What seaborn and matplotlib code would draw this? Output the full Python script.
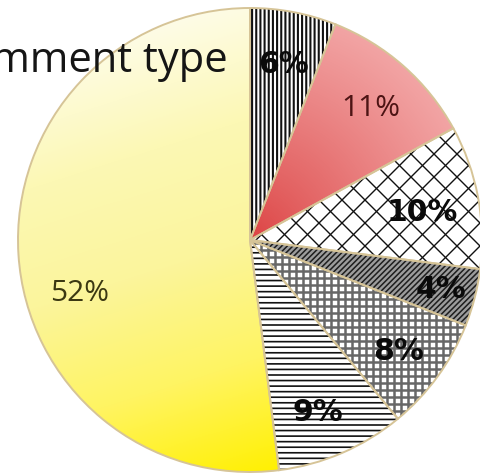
import numpy as np
import matplotlib
matplotlib.use("Agg")
import matplotlib.pyplot as plt
from matplotlib.patches import Wedge
from matplotlib.collections import LineCollection
import seaborn as sns

sns.set_theme(style="white")
plt.rcParams["font.family"] = ["Open Sans", "DejaVu Sans"]

# Share of comments per type (percent), clockwise from 12 o'clock
shares = [6, 11, 10, 4, 8, 9, 52]
title = "Comment type"

# ---- layout / styling -------------------------------------------------
W, H, DPI = 480, 476, 100
CX, CY, R = 250, 240, 232          # pie centre and radius in pixels

# how each slice is filled
fills = ["hatch", "radial", "cross", "hatch", "grid", "hatch", "linear"]
hatches = ["||||", None, None, "//////", None, "---", None]
hatch_colors = ["#111111", None, None, "#1e1e1e", None, "#111111", None]
hatch_widths = [1.5, None, None, 1.1, None, 1.2, None]
face_colors = ["white", None, "white", "#9c9c9c", "white", "white", None]

# label placement: radius factor and clockwise nudge (degrees)
label_radius = [0.77, 0.77, 0.75, 0.85, 0.80, 0.80, 0.77]
label_nudge = [0.0, 1.3, 1.8, 0.0, 1.0, 2.0, -13.7]
label_bold = [True, False, True, True, True, True, False]
label_colors = ["#0a0a0a", "#4d1414", "#0a0a0a", "#0a0a0a", "#0a0a0a", "#0a0a0a", "#3b3812"]

fig = plt.figure(figsize=(W / DPI, H / DPI), dpi=DPI, facecolor="white")
ax = fig.add_axes([0, 0, 1, 1])

wedges, _ = ax.pie(
    shares, startangle=90, counterclock=False, radius=1,
    colors=["none"] * len(shares),
    wedgeprops=dict(edgecolor="#d6c497", linewidth=1.4, zorder=3),
)

yellow_cmap = sns.blend_palette(["#fefce6", "#fcf8b4", "#fbf59c", "#fff462", "#fff000"], as_cmap=True)
red_cmap = sns.blend_palette(["#dc4040", "#e67070", "#f2a4a4"], as_cmap=True)

n = 500
gx = np.linspace(-1.05, 1.05, n)
GX, GY = np.meshgrid(gx, gx)


def gradient(wedge, values, cmap):
    im = ax.imshow(values, extent=(gx[0], gx[-1], gx[0], gx[-1]), origin="lower",
                   cmap=cmap, vmin=0, vmax=1, aspect="auto",
                   interpolation="bilinear", zorder=1)
    im.set_clip_path(wedge)


def clipped_lines(wedge, segs, color, lw):
    lc = LineCollection(segs, colors=color, linewidths=lw, zorder=2)
    ax.add_collection(lc)
    lc.set_clip_path(wedge)


for i, w in enumerate(wedges):
    kind = fills[i]
    if kind == "linear":
        d = np.array([0.3, -0.95])
        d = d / np.linalg.norm(d)
        t = np.clip((GX * d[0] + GY * d[1] + 1.0) / 2.0, 0, 1)
        gradient(w, t, yellow_cmap)
        continue
    if kind == "radial":
        t = np.clip(np.hypot(GX, GY), 0, 1) ** 0.8
        gradient(w, t, red_cmap)
        continue

    base = Wedge(w.center, w.r, w.theta1, w.theta2,
                 facecolor=face_colors[i], edgecolor="none", zorder=1)
    ax.add_patch(base)

    if kind == "hatch":
        with plt.rc_context({"hatch.linewidth": hatch_widths[i]}):
            hp = Wedge(w.center, w.r, w.theta1, w.theta2, facecolor="none",
                       edgecolor=hatch_colors[i], linewidth=0,
                       hatch=hatches[i], zorder=2)
            if hasattr(hp, "set_hatch_linewidth"):
                hp.set_hatch_linewidth(hatch_widths[i])
            ax.add_patch(hp)
    elif kind == "cross":
        step = 23.0 / R
        cs = np.arange(-3.0, 3.0, step)
        segs = [[(-2, -2 + c), (2, 2 + c)] for c in cs]
        segs += [[(-2, 2 + c), (2, -2 + c)] for c in cs]
        clipped_lines(w, segs, "#111111", 1.0)
    elif kind == "grid":
        step = 7.0 / R
        cs = np.arange(-1.1, 1.1, step)
        segs = [[(c, -1.1), (c, 1.1)] for c in cs]
        segs += [[(-1.1, c), (1.1, c)] for c in cs]
        clipped_lines(w, segs, "#676767", 1.8)

# percentage labels
for i, w in enumerate(wedges):
    mid = np.deg2rad((w.theta1 + w.theta2) / 2.0 - label_nudge[i])
    r = label_radius[i]
    txt = f"{shares[i]}%"
    if label_bold[i]:
        ax.text(r * np.cos(mid), r * np.sin(mid), txt, ha="center", va="center",
                fontsize=21.5, fontweight="bold", family=["DejaVu Sans"],
                color=label_colors[i], zorder=4)
    else:
        ax.text(r * np.cos(mid), r * np.sin(mid), txt, ha="center", va="center",
                fontsize=21.5, family=["Open Sans", "DejaVu Sans"],
                color=label_colors[i], zorder=4)

ax.set_aspect("auto")
ax.set_xlim(-CX / R, (W - CX) / R)
ax.set_ylim(-(H - CY) / R, CY / R)
ax.axis("off")

fig.text(228 / W, 1 - 72 / H, title, ha="right", va="baseline",
         fontsize=30, color="#151515", family=["Open Sans", "DejaVu Sans"])

fig.savefig("out.png", dpi=DPI, facecolor="white")
